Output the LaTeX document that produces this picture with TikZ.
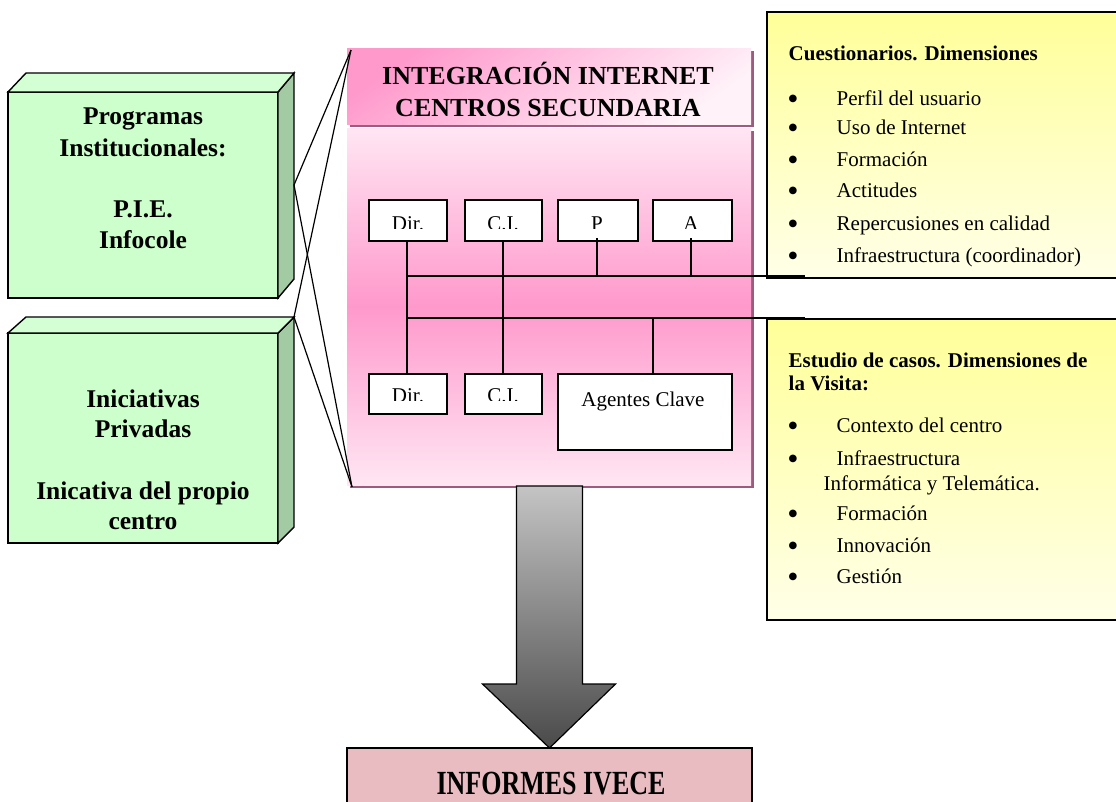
\documentclass[tikz,border=0pt]{standalone}
\usepackage{fontspec}
\setmainfont{Liberation Serif}
\newfontfamily\bulfont{DejaVu Sans}
\usetikzlibrary{calc}
\definecolor{gfront}{HTML}{CCFFCC}
\definecolor{gtop}{HTML}{D4FFD4}
\definecolor{gside}{HTML}{A3CBA3}
\definecolor{pinkD}{HTML}{FF99CC}
\definecolor{pinkL}{HTML}{FFE6F3}
\definecolor{pshadow}{HTML}{9C5C80}
\definecolor{yelD}{HTML}{FFFF99}
\definecolor{yelL}{HTML}{FFFFE8}
\definecolor{infofill}{HTML}{E8BCC0}
\definecolor{arrTop}{HTML}{C4C4C4}
\definecolor{arrBot}{HTML}{4A4A4A}
\newcommand\gfnt{\fontsize{25.5}{31}\selectfont\bfseries}
\newcommand\yfnt{\fontsize{21}{24}\selectfont}
\begin{document}
\begin{tikzpicture}[x=1pt,y=-1pt,line width=1.4pt,
  gface/.style={draw, fill=gfront, minimum width=270pt, inner sep=0pt, outer sep=0pt},
  gtxt/.style={anchor=base, font=\gfnt, inner sep=0pt},
  ybox/.style={draw, line width=1.2pt, top color=yelD, bottom color=yelL, minimum width=363pt, inner sep=0pt, outer sep=0pt},
  ytxt/.style={anchor=base west, font=\yfnt, inner sep=0pt},
  ybul/.style={anchor=base, font=\bulfont\fontsize{10}{12}\selectfont, inner sep=0pt, yshift=3.5pt},
  sbox/.style={draw, fill=white, line width=1.3pt, inner sep=0pt, outer sep=0pt},
  stxt/.style={anchor=base, font=\fontsize{21}{24}\selectfont, inner sep=0pt},
  conn/.style={line width=1.4pt},
  link/.style={line width=1.2pt}]
\useasboundingbox (0,0) rectangle (1116,801);

% ---------- green boxes ----------
\node[gface, minimum height=206pt] (g1) at (143,195) {};
\filldraw[fill=gside] (g1.north east) -- ([shift={(16pt,19pt)}]g1.north east) -- ([shift={(16pt,19pt)}]g1.south east) -- (g1.south east) -- cycle;
\filldraw[fill=gtop] (g1.north west) -- ([shift={(18pt,19pt)}]g1.north west) -- ([shift={(16pt,19pt)}]g1.north east) -- (g1.north east) -- cycle;
\node[gtxt] (g1a) at (143,124) {Programas};
\node[gtxt] (g1b) at (143,156) {Institucionales:};
\node[gtxt] (g1c) at (143,217) {P.I.E.};
\node[gtxt] (g1d) at (143,248) {Infocole};

\node[gface, minimum height=210pt] (g2) at (143,438) {};
\filldraw[fill=gside] (g2.north east) -- ([shift={(16pt,16pt)}]g2.north east) -- ([shift={(16pt,16pt)}]g2.south east) -- (g2.south east) -- cycle;
\filldraw[fill=gtop] (g2.north west) -- ([shift={(18pt,16pt)}]g2.north west) -- ([shift={(16pt,16pt)}]g2.north east) -- (g2.north east) -- cycle;
\node[gtxt] (g2a) at (143,407) {Iniciativas};
\node[gtxt] (g2b) at (143,437) {Privadas};
\node[gtxt] (g2c) at (143,499) {Inicativa del propio};
\node[gtxt] (g2d) at (143,529) {centro};

% ---------- pink panels ----------
\fill[pshadow] (350,51) rectangle (754,127);
\node[top color=pinkD, bottom color=pinkL!50!white, shading angle=35, minimum width=404pt, minimum height=76pt, inner sep=0pt, outer sep=0pt] (ptitle) at (549,86) {};
\fill[pshadow] (350,131) rectangle (754,488);
\node[top color=pinkL, bottom color=pinkL, middle color=pinkD, minimum width=404pt, minimum height=357pt, inner sep=0pt, outer sep=0pt] (pmain) at (549,306.5) {};
\node[anchor=base, font=\fontsize{26}{32}\selectfont\bfseries, inner sep=0pt] (t1) at (548,84) {INTEGRACIÓN INTERNET};
\node[anchor=base, font=\fontsize{26}{32}\selectfont\bfseries, inner sep=0pt] (t2) at (548,116) {CENTROS SECUNDARIA};

% ---------- links from green boxes ----------
\coordinate (g1p) at ([shift={(16pt,10pt)}]g1.east);
\coordinate (g2p) at ([shift={(16pt,16pt)}]g2.north east);
\coordinate (ptl) at ([shift={(4pt,-2pt)}]ptitle.north west);
\coordinate (pbl) at ([shift={(5pt,-2pt)}]pmain.south west);
\draw[link] (g1p) -- (ptl);
\draw[link] (g2p) -- (ptl);
\draw[link] (g1p) -- (pbl);
\draw[link] (g2p) -- (pbl);

% ---------- yellow boxes ----------
\node[ybox, minimum height=266pt] (y1) at (948.5,145) {};
\node[ybox, minimum height=301pt] (y2) at (948.5,469.5) {};

% ---------- small boxes ----------
\node[sbox, minimum width=78pt, minimum height=41pt] (dir1) at (408,220.5) {};
\node[sbox, minimum width=77pt, minimum height=41pt] (ci1) at (503.5,220.5) {};
\node[sbox, minimum width=80pt, minimum height=41pt] (p1) at (598,220.5) {};
\node[sbox, minimum width=79pt, minimum height=41pt] (a1) at (692.5,220.5) {};
\node[sbox, minimum width=78pt, minimum height=40pt] (dir2) at (408,394) {};
\node[sbox, minimum width=77pt, minimum height=40pt] (ci2) at (503.5,394) {};
\node[sbox, minimum width=174pt, minimum height=76pt] (ag) at (645,412) {};
\begin{scope}
\clip (360,200) rectangle (740,228.5);
\node[stxt] (tdir1) at (408,230.5) {Dir.};
\node[stxt] (tci1) at (503,230.5) {C.I.};
\node[stxt] (tp1) at (597,230.5) {P};
\node[stxt] (ta1) at (691,230.5) {A};
\end{scope}
\begin{scope}
\clip (360,374) rectangle (550,400.5);
\node[stxt] (tdir2) at (408,402.5) {Dir.};
\node[stxt] (tci2) at (503,402.5) {C.I.};
\end{scope}
\node[stxt] (tag) at (643,406) {Agentes Clave};

% ---------- connectors ----------
\coordinate (b1e) at (805,276);
\coordinate (b2e) at (805,318);
\draw[conn] ([xshift=-1pt]dir1.south) -- ([xshift=-1pt]dir2.north);
\draw[conn] ([xshift=-0.5pt]ci1.south) -- ([xshift=-0.5pt]ci2.north);
\draw[conn] ([xshift=-1pt]dir1.south |- b1e) -- (b1e);
\draw[conn] ([xshift=-1pt]dir1.south |- b2e) -- (b2e);
\draw[conn] ([shift={(-1pt,3pt)}]p1.south) -- ([xshift=-1pt]p1.south |- b1e);
\draw[conn] ([shift={(-1.5pt,3pt)}]a1.south) -- ([xshift=-1.5pt]a1.south |- b1e);
\draw[conn] ([xshift=8pt]ag.north) -- ([xshift=8pt]ag.north |- b2e);

% ---------- yellow texts ----------
\node[ytxt, font=\yfnt\bfseries] (yt1) at (788,60) {Cuestionarios. Dimensiones};
\foreach \t/\yy [count=\i] in {Perfil del usuario/105, Uso de Internet/134, Formación/166, Actitudes/197, Repercusiones en calidad/230, Infraestructura (coordinador)/262}{
  \node[ybul] (yb1\i) at (793,\yy) {●};
  \node[ytxt] (yi1\i) at (836,\yy) {\t};
}
\node[ytxt, font=\yfnt\bfseries] (yt2a) at (788,367) {Estudio de casos. Dimensiones de};
\node[ytxt, font=\yfnt\bfseries] (yt2b) at (788,390) {la Visita:};
\foreach \t/\yy [count=\i] in {Contexto del centro/432, Infraestructura/465, Formación/520, Innovación/552, Gestión/583}{
  \node[ybul] (yb2\i) at (793,\yy) {●};
  \node[ytxt] (yi2\i) at (836,\yy) {\t};
}
\node[ytxt] (yi2x) at (823,490) {Informática y Telemática.};

% ---------- informes box and arrow ----------
\node[draw, fill=infofill, line width=1.2pt, minimum width=405pt, minimum height=80pt, inner sep=0pt, outer sep=0pt] (inf) at (549.5,788) {};
\node[anchor=base, font=\fontsize{26}{30}\selectfont\bfseries, inner sep=0pt] (tinf) at (551,794) {\scalebox{1}[1.3]{INFORMES IVECE}};
\shade[top color=arrTop, bottom color=arrBot, draw=black, line width=1.2pt, line join=miter]
  ($(inf.north)+(-33,-262)$) -- ($(inf.north)+(33,-262)$) -- ($(inf.north)+(33,-64)$) -- ($(inf.north)+(66,-64)$)
  -- (inf.north) -- ($(inf.north)+(-67,-64)$) -- ($(inf.north)+(-33,-64)$) -- cycle;
\end{tikzpicture}
\end{document}
